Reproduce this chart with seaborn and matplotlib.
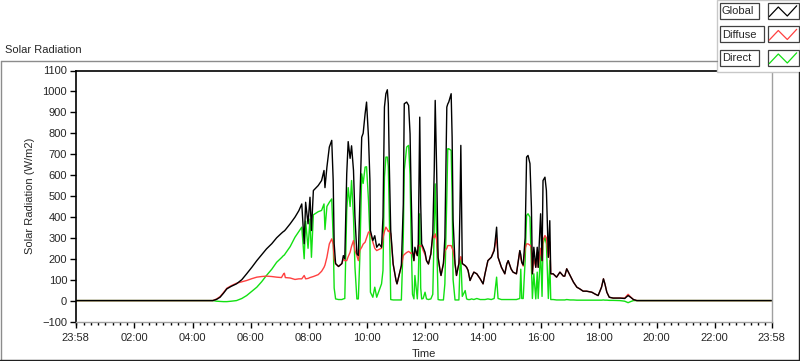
import matplotlib
matplotlib.use("Agg")
import matplotlib.pyplot as plt
import seaborn as sns
import pandas as pd
from matplotlib.lines import Line2D
from matplotlib.patches import Rectangle
from matplotlib.ticker import FixedLocator, MultipleLocator, NullFormatter

# readings of the LabVIEW chart, W/m2
times = [
    "00:00", "04:42", "04:50", "04:57", "05:04", "05:11", "05:20", "05:31", "05:42", "05:52",
    "06:03", "06:13", "06:23", "06:33", "06:44", "06:54", "07:04", "07:08", "07:10", "07:12",
    "07:22", "07:32", "07:40", "07:46", "07:51", "07:54", "07:59", "08:03", "08:06", "08:10",
    "08:20", "08:27", "08:32", "08:34", "08:38", "08:43", "08:48", "08:51", "08:53", "08:56",
    "09:02", "09:09", "09:12", "09:15", "09:19", "09:22", "09:26", "09:29", "09:33", "09:36",
    "09:40", "09:43", "09:46", "09:50", "09:53", "09:57", "10:00", "10:04", "10:07", "10:08",
    "10:13", "10:17", "10:21", "10:26", "10:31", "10:34", "10:37", "10:40", "10:43", "10:45",
    "10:47", "10:50", "10:55", "11:01", "11:03", "11:08", "11:12", "11:16", "11:18", "11:23",
    "11:27", "11:30", "11:32", "11:35", "11:38", "11:40", "11:45", "11:47", "11:50", "11:52",
    "11:54", "11:57", "12:01", "12:04", "12:08", "12:13", "12:17", "12:20", "12:22", "12:25",
    "12:28", "12:32", "12:34", "12:39", "12:42", "12:46", "12:48", "12:50", "12:55", "12:57",
    "12:59", "13:03", "13:06", "13:11", "13:13", "13:15", "13:18", "13:24", "13:27", "13:30",
    "13:34", "13:37", "13:42", "13:48", "13:55", "14:01", "14:05", "14:11", "14:18", "14:24",
    "14:29", "14:32", "14:39", "14:46", "14:50", "14:53", "14:59", "15:03", "15:10", "15:17",
    "15:19", "15:21", "15:24", "15:28", "15:31", "15:34", "15:38", "15:41", "15:43", "15:46",
    "15:50", "15:53", "15:55", "16:00", "16:03", "16:05", "16:09", "16:12", "16:16", "16:19",
    "16:21", "16:26", "16:33", "16:40", "16:47", "16:50", "16:54", "17:01", "17:08", "17:15",
    "17:21", "17:28", "17:35", "17:46", "17:52", "17:59", "18:06", "18:10", "18:13", "18:17",
    "18:22", "18:30", "18:44", "18:54", "19:01", "19:06", "19:12", "19:19", "23:58",
]
global_wm2 = [
    0, 0, 6, 16, 35, 56, 68, 80, 100, 128,
    160, 191, 219, 247, 272, 300, 322, 330, 333, 338,
    367, 399, 430, 462, 272, 470, 367, 494, 335, 526,
    550, 574, 622, 540, 638, 734, 766, 574, 272, 177,
    163, 177, 215, 200, 606, 760, 680, 740, 622, 400,
    224, 215, 450, 781, 800, 893, 949, 781, 574, 335,
    287, 310, 255, 271, 255, 399, 925, 989, 1008, 941,
    654, 335, 175, 96, 80, 128, 167, 462, 941, 949,
    933, 797, 542, 239, 191, 255, 215, 271, 877, 462,
    271, 255, 231, 191, 175, 223, 319, 622, 957, 622,
    207, 144, 120, 177, 300, 925, 940, 949, 989, 781,
    383, 177, 120, 177, 415, 742, 177, 167, 159, 144,
    96, 112, 136, 128, 104, 80, 128, 191, 207, 239,
    351, 207, 159, 128, 175, 191, 151, 136, 128, 239,
    220, 183, 170, 300, 686, 694, 655, 447, 128, 255,
    159, 255, 159, 415, 191, 574, 590, 526, 207, 382,
    128, 128, 112, 136, 117, 117, 152, 120, 88, 64,
    56, 45, 45, 40, 32, 24, 64, 104, 80, 40,
    16, 12, 12, 10, 24, 16, 5, 0, 0,
]
diffuse_wm2 = [
    0, 0, 8, 19, 38, 59, 71, 83, 90, 96,
    105, 112, 115, 117, 115, 112, 110, 126, 131, 110,
    108, 101, 104, 104, 120, 104, 106, 110, 112, 115,
    124, 140, 159, 170, 207, 271, 295, 270, 200, 175,
    163, 177, 200, 191, 191, 210, 231, 260, 287, 240,
    215, 191, 240, 255, 270, 279, 300, 327, 330, 320,
    280, 250, 239, 245, 250, 300, 330, 351, 340, 330,
    335, 320, 175, 96, 80, 128, 167, 215, 220, 230,
    235, 230, 225, 230, 191, 240, 215, 263, 263, 260,
    263, 240, 220, 191, 175, 223, 311, 300, 319, 290,
    207, 144, 120, 177, 239, 250, 263, 263, 263, 250,
    240, 177, 120, 177, 200, 210, 177, 167, 159, 144,
    96, 112, 136, 128, 104, 80, 128, 191, 207, 245,
    300, 207, 159, 128, 175, 191, 151, 136, 128, 239,
    200, 183, 165, 250, 271, 271, 265, 255, 128, 200,
    159, 230, 159, 250, 191, 290, 311, 300, 207, 280,
    128, 128, 112, 136, 117, 117, 152, 120, 88, 64,
    56, 45, 45, 40, 32, 24, 64, 104, 80, 40,
    16, 12, 12, 12, 30, 18, 5, 0, 0,
]
direct_wm2 = [
    0, 0, -3, -4, -5, -5, -3, 0, 10, 24,
    45, 64, 90, 120, 150, 183, 205, 215, 218, 225,
    258, 303, 330, 351, 200, 380, 250, 390, 207, 410,
    425, 431, 462, 340, 450, 470, 486, 300, 60, 8,
    5, 5, 8, 10, 430, 540, 450, 574, 400, 160,
    8, 8, 200, 606, 560, 638, 640, 480, 300, 40,
    16, 64, 16, 48, 80, 144, 590, 686, 686, 640,
    420, 5, 3, 3, 3, 3, 3, 300, 622, 734,
    742, 600, 320, 30, 8, 120, 8, 100, 415, 60,
    8, 10, 40, 8, 5, 8, 30, 350, 558, 300,
    5, 3, 3, 3, 80, 494, 726, 726, 718, 500,
    100, 3, 3, 3, 150, 207, 20, 48, 8, 5,
    5, 8, 5, 10, 5, 5, 5, 8, 5, 10,
    112, 10, 5, 5, 5, 5, 5, 5, 5, 10,
    150, 10, 10, 191, 407, 415, 399, 175, 10, 128,
    8, 136, 10, 239, 20, 271, 303, 271, 10, 191,
    5, 5, 3, 3, 3, 3, 5, 3, 3, 2,
    2, 2, 2, 2, 2, 2, 2, 3, 2, 2,
    1, 1, 0, -3, -10, -5, 0, 0, 0,
]

series_names = ["Global", "Diffuse", "Direct"]
series_colors = {"Global": "#000000", "Diffuse": "#ff4040", "Direct": "#12e012"}
x_tick_labels = ["23:58", "02:00", "04:00", "06:00", "08:00", "10:00", "12:00",
                 "14:00", "16:00", "18:00", "20:00", "22:00", "23:58"]
y_ticks = list(range(-100, 1101, 100))

W, H = 800, 361


def to_hours(stamp):
    return int(stamp[:2]) + int(stamp[3:]) / 60


def fx(px):
    return px / W


def fy(py):
    return 1 - py / H


tick_hours = [to_hours(s) for s in x_tick_labels]
tick_hours[0] -= 24  # the axis starts two minutes before midnight

df = pd.DataFrame({
    "hour": [to_hours(t) for t in times],
    "Global": global_wm2,
    "Diffuse": diffuse_wm2,
    "Direct": direct_wm2,
}).melt(id_vars="hour", var_name="series", value_name="wm2")

sns.set_style("white")
plt.rcParams["font.family"] = ["Liberation Sans", "DejaVu Sans"]
plt.rcParams["font.size"] = 8

fig = plt.figure(figsize=(W / 100, H / 100), dpi=100)
ax = fig.add_axes([fx(75.5), fy(321.5), fx(771.7) - fx(75.5), fy(70.5) - fy(321.5)])

sns.lineplot(data=df, x="hour", y="wm2", hue="series",
             hue_order=["Direct", "Diffuse", "Global"], palette=series_colors,
             estimator=None, linewidth=1.0, legend=False, ax=ax)

ax.set_xlim(tick_hours[0], tick_hours[-1])
ax.set_ylim(y_ticks[0], y_ticks[-1])
ax.xaxis.set_major_locator(FixedLocator(tick_hours))
ax.set_xticklabels(x_tick_labels)
ax.xaxis.set_minor_locator(MultipleLocator(0.25))
ax.xaxis.set_minor_formatter(NullFormatter())
ax.set_yticks(y_ticks)
ax.set_xlabel("")
ax.set_ylabel("")

ax.tick_params(axis="both", which="major", direction="out", length=4, width=1,
               color="black", labelsize=8, pad=2, bottom=True, left=True)
ax.tick_params(axis="x", which="minor", direction="out", length=2.5, width=1,
               color="black", bottom=True)
ax.tick_params(axis="x", pad=4)

for side in ["left", "top"]:
    ax.spines[side].set_color("black")
    ax.spines[side].set_linewidth(1.2)
for side in ["right", "bottom"]:
    ax.spines[side].set_color("#a0a0a0")
    ax.spines[side].set_linewidth(1.0)
    ax.spines[side].set_visible(True)

# labels placed like the LabVIEW front panel
fig.text(fx(5), fy(50), "Solar Radiation", ha="left", va="center", fontsize=8)
fig.text(fx(30), fy(196), "Solar Radiation (W/m2)", rotation=90, ha="center", va="center", fontsize=8)
fig.text(fx(423.6), fy(354), "Time", ha="center", va="center", fontsize=8)

# recessed panel frame
frame = dict(transform=fig.transFigure, linewidth=1.0)
fig.add_artist(Line2D([fx(0.5), fx(717)], [fy(61), fy(61)], color="#8c8c8c", **frame))
fig.add_artist(Line2D([fx(0.8), fx(0.8)], [fy(61), fy(361)], color="#8c8c8c", **frame))
fig.add_artist(Line2D([fx(0), fx(800)], [fy(359.8), fy(359.8)], color="#202020", **frame))
fig.add_artist(Line2D([fx(799.3), fx(799.3)], [fy(72), fy(361)], color="#202020", **frame))

# plot legend panel in the top-right corner
fig.add_artist(Rectangle((fx(717), fy(72)), fx(83), 72 / H, transform=fig.transFigure,
                         facecolor="white", edgecolor="#c8c8c8", linewidth=1.0))
box_right = {"Global": 758.5, "Diffuse": 763.5, "Direct": 758.5}
for i, name in enumerate(series_names):
    top = 3 + i * 23.5
    h = 15.5
    fig.add_artist(Rectangle((fx(719.5), fy(top + h)), fx(box_right[name] - 719.5), h / H,
                             transform=fig.transFigure, facecolor="white",
                             edgecolor="#404040", linewidth=0.9))
    fig.text(fx(722), fy(top + h / 2 + 0.5), name, ha="left", va="center", fontsize=8)
    fig.add_artist(Rectangle((fx(767.5), fy(top + h)), fx(31), h / H,
                             transform=fig.transFigure, facecolor="white",
                             edgecolor="#404040", linewidth=0.9))
    zx = [769.3, 778.3, 787.3, 796.7]
    zy = [top + 13.5, top + 4.0, top + 13.0, top + 2.8]
    fig.add_artist(Line2D([fx(v) for v in zx], [fy(v) for v in zy],
                          color=series_colors[name], linewidth=0.9, transform=fig.transFigure))

fig.savefig("out.png", dpi=100)
